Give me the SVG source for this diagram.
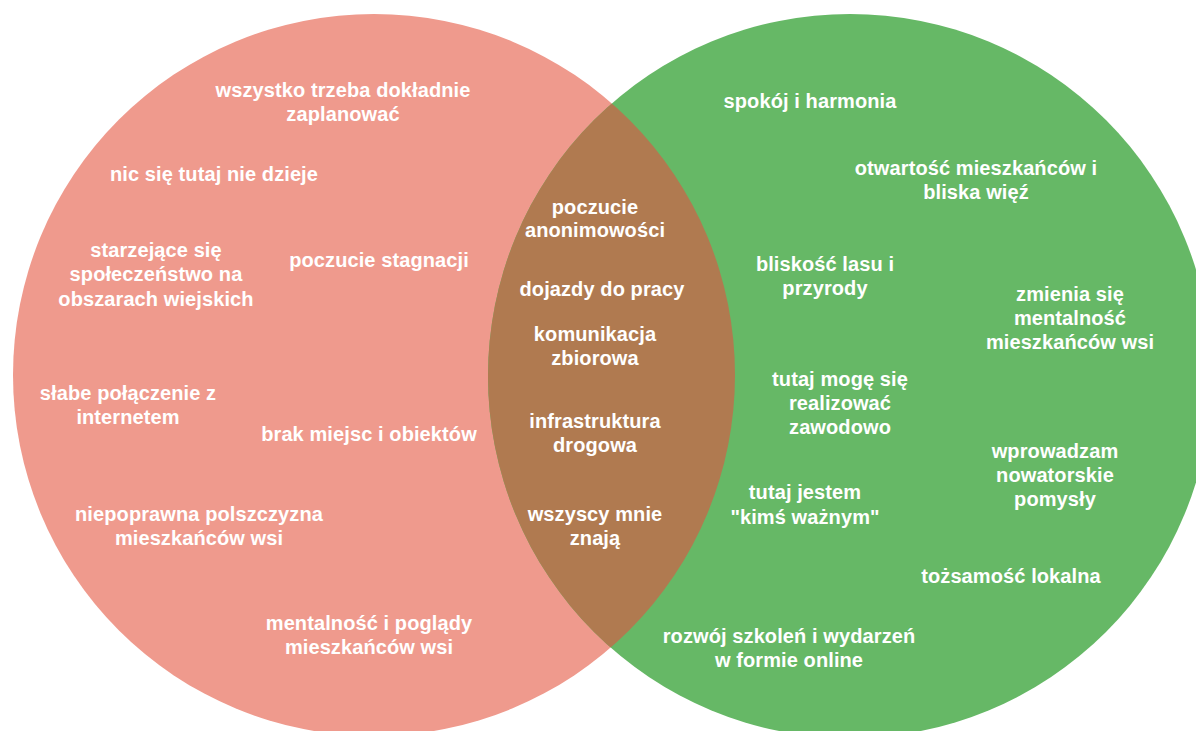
<svg xmlns="http://www.w3.org/2000/svg" width="1196" height="731" viewBox="0 0 1196 731">
<style>
text{font-family:"Liberation Sans",Arial,sans-serif;font-weight:bold;font-size:20px;letter-spacing:0.1px;fill:#ffffff;text-anchor:middle}
</style>
<defs>
<clipPath id="clipRed"><circle cx="374" cy="375" r="361"/></clipPath>
</defs>
<rect width="1196" height="731" fill="#ffffff"/>
<g id="circle-red"><circle cx="374" cy="375" r="361" fill="#EF9A8D"/></g>
<g id="circle-green"><circle cx="850" cy="376" r="362" fill="#66B866"/></g>
<g id="overlap"><circle cx="850" cy="376" r="362" fill="#B07A50" clip-path="url(#clipRed)"/></g>
<g id="connectors"></g>
<g id="red-labels" transform="translate(0,1)">
<g id="r1"><text x="343" y="96">wszystko trzeba dokładnie</text><text x="343" y="120">zaplanować</text></g>
<g id="r2"><text x="214" y="180">nic się tutaj nie dzieje</text></g>
<g id="r3"><text x="156" y="256">starzejące się</text><text x="156" y="280">społeczeństwo na</text><text x="156" y="305">obszarach wiejskich</text></g>
<g id="r4"><text x="379" y="266">poczucie stagnacji</text></g>
<g id="r5"><text x="128" y="399">słabe połączenie z</text><text x="128" y="423">internetem</text></g>
<g id="r6"><text x="369" y="440">brak miejsc i obiektów</text></g>
<g id="r7"><text x="199" y="520">niepoprawna polszczyzna</text><text x="199" y="544">mieszkańców wsi</text></g>
<g id="r8"><text x="369" y="629">mentalność i poglądy</text><text x="369" y="653">mieszkańców wsi</text></g>
</g>
<g id="overlap-labels" transform="translate(0,1)">
<g id="o1"><text x="595" y="213">poczucie</text><text x="595" y="236">anonimowości</text></g>
<g id="o2"><text x="602" y="295">dojazdy do pracy</text></g>
<g id="o3"><text x="595" y="340">komunikacja</text><text x="595" y="364">zbiorowa</text></g>
<g id="o4"><text x="595" y="427">infrastruktura</text><text x="595" y="451">drogowa</text></g>
<g id="o5"><text x="595" y="520">wszyscy mnie</text><text x="595" y="544">znają</text></g>
</g>
<g id="green-labels" transform="translate(0,1)">
<g id="g1"><text x="810" y="107">spokój i harmonia</text></g>
<g id="g2"><text x="976" y="174">otwartość mieszkańców i</text><text x="976" y="198">bliska więź</text></g>
<g id="g3"><text x="825" y="270">bliskość lasu i</text><text x="825" y="294">przyrody</text></g>
<g id="g4"><text x="1070" y="300">zmienia się</text><text x="1070" y="324">mentalność</text><text x="1070" y="348">mieszkańców wsi</text></g>
<g id="g5"><text x="840" y="385">tutaj mogę się</text><text x="840" y="409">realizować</text><text x="840" y="433">zawodowo</text></g>
<g id="g6"><text x="1055" y="457">wprowadzam</text><text x="1055" y="481">nowatorskie</text><text x="1055" y="505">pomysły</text></g>
<g id="g7"><text x="805" y="498">tutaj jestem</text><text x="805" y="523">"kimś ważnym"</text></g>
<g id="g8"><text x="1011" y="582">tożsamość lokalna</text></g>
<g id="g9"><text x="789" y="642">rozwój szkoleń i wydarzeń</text><text x="789" y="666">w formie online</text></g>
</g>
</svg>
